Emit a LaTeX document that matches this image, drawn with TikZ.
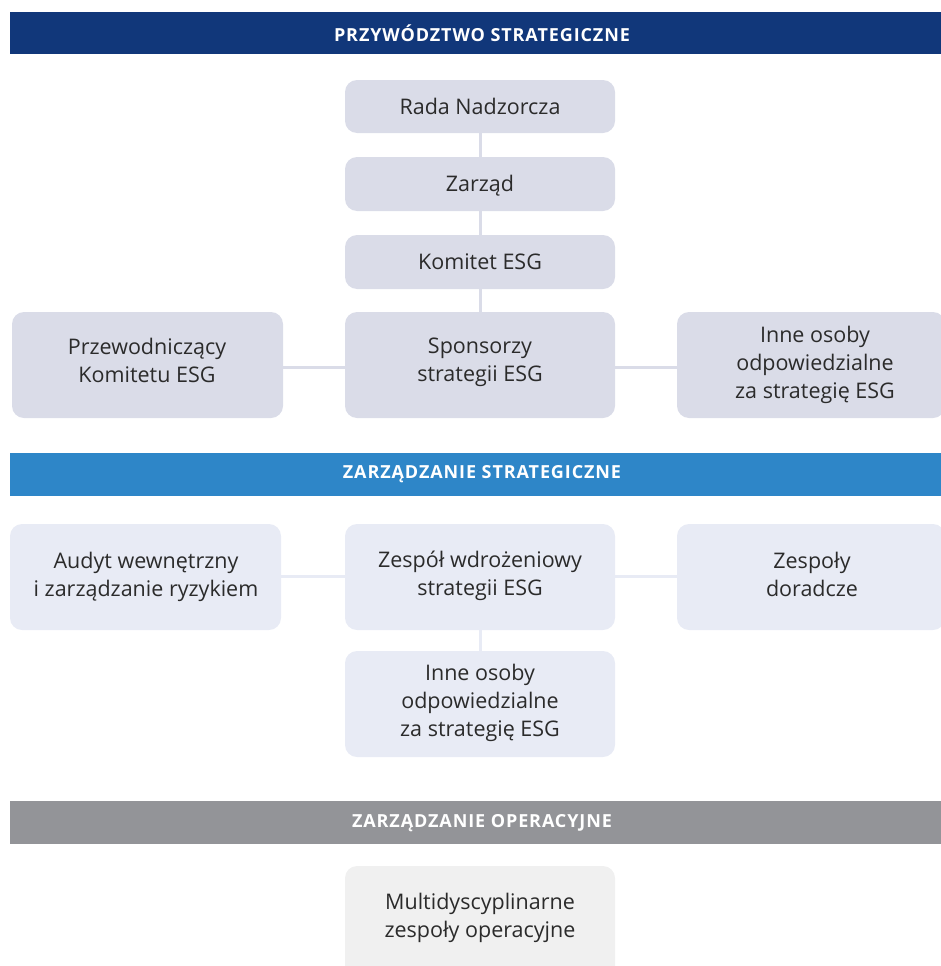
\documentclass[tikz,border=0pt]{standalone}
\usepackage{fontspec}
\setmainfont{Open Sans}
\definecolor{navy}{HTML}{11377A}
\definecolor{midblue}{HTML}{2E86C8}
\definecolor{bandgray}{HTML}{939498}
\definecolor{boxA}{HTML}{DADCE8}
\definecolor{boxB}{HTML}{E8EBF5}
\definecolor{boxC}{HTML}{F0F0F0}
\definecolor{txt}{HTML}{2B2B2B}
\tikzset{
  bandtext/.style={text=white, inner sep=0pt, font=\fontsize{18}{18}\selectfont\bfseries\addfontfeatures{LetterSpace=5}},
  ebox/.style={inner sep=0pt, text=txt, align=center, font=\fontsize{21.5}{28}\selectfont},
  conA/.style={draw=boxA, line width=3pt},
  conB/.style={draw=boxB, line width=3pt},
  rbox/.style={rounded corners=12pt},
}
\begin{document}
\begin{tikzpicture}[x=1pt,y=-1pt]
\useasboundingbox (0,0) rectangle (941,966);
\clip (0,0) rectangle (941,966);
% bands
\fill[navy] (10,12) rectangle (945,54);
\node[bandtext] (b1) at (482,33) {PRZYWÓDZTWO STRATEGICZNE};
\fill[midblue] (10,453) rectangle (945,496);
\node[bandtext] (b2) at (482,474) {ZARZĄDZANIE STRATEGICZNE};
\fill[bandgray] (10,801) rectangle (945,844);
\node[bandtext] (b3) at (482,823) {ZARZĄDZANIE OPERACYJNE};
% section 1 connectors
\coordinate (v1a) at (480,106);
\coordinate (v1b) at (480,365);
\coordinate (h1a) at (148,367);
\coordinate (h1b) at (810,367);
\draw[conA] (v1a) -- (v1b);
\draw[conA] (h1a) -- (h1b);
% section 1 boxes
\fill[boxA, rbox] (345,80) rectangle (615,133);
\node[ebox] (rada) at (480,106) {Rada Nadzorcza};
\fill[boxA, rbox] (345,157) rectangle (615,211);
\node[ebox] (zarzad) at (480,186) {Zarząd};
\fill[boxA, rbox] (345,235) rectangle (615,289);
\node[ebox] (komitet) at (480,262) {Komitet ESG};
\fill[boxA, rbox] (345,312) rectangle (615,418);
\node[ebox] (spons) at (480,362) {Sponsorzy\\strategii ESG};
\fill[boxA, rbox] (12,312) rectangle (283,418);
\node[ebox] (przew) at (147,360) {Przewodniczący\\Komitetu ESG};
\fill[boxA, rbox] (677,312) rectangle (945,418);
\node[ebox] (inne1) at (815,365) {Inne osoby\\odpowiedzialne\\za strategię ESG};
% section 2 connectors
\coordinate (v2a) at (480,576);
\coordinate (v2b) at (480,700);
\coordinate (h2a) at (146,576);
\coordinate (h2b) at (810,576);
\draw[conB] (v2a) -- (v2b);
\draw[conB] (h2a) -- (h2b);
% section 2 boxes
\fill[boxB, rbox] (10,524) rectangle (281,630);
\node[ebox] (audyt) at (146,577) {Audyt wewnętrzny\\i zarządzanie ryzykiem};
\fill[boxB, rbox] (345,524) rectangle (615,630);
\node[ebox] (zespol) at (480,576) {Zespół wdrożeniowy\\strategii ESG};
\fill[boxB, rbox] (677,524) rectangle (945,630);
\node[ebox] (dorad) at (812,574) {Zespoły\\doradcze};
\fill[boxB, rbox] (345,651) rectangle (615,757);
\node[ebox] (inne2) at (480,703) {Inne osoby\\odpowiedzialne\\za strategię ESG};
% section 3
\fill[boxC, rbox] (345,866) rectangle (615,980);
\node[ebox] (multi) at (480,918) {Multidyscyplinarne\\zespoły operacyjne};
\end{tikzpicture}
\end{document}
